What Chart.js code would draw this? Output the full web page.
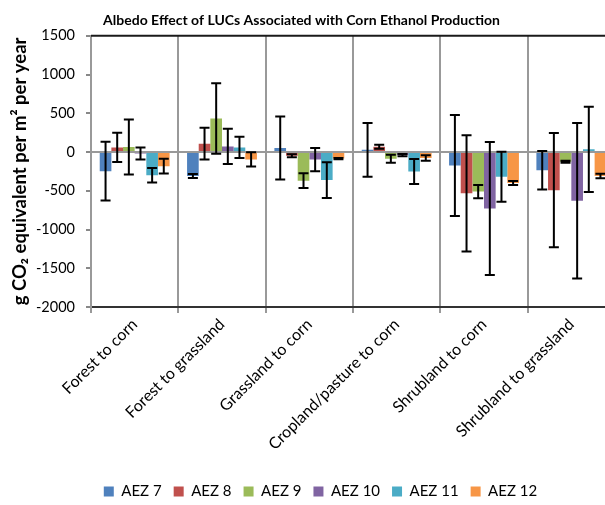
<!DOCTYPE html>
<html>
<head>
<meta charset="utf-8">
<script src="https://cdn.jsdelivr.net/npm/chart.js@4/dist/chart.umd.min.js"></script>
<style>
  html, body { margin: 0; padding: 0; background: #fff; overflow: hidden; }
  #wrap { width: 605px; height: 505px; overflow: hidden; position: relative; }
  canvas { display: block; }
</style>
</head>
<body>
<div id="wrap"><canvas id="c" width="615" height="505"></canvas></div>
<script>
// Land-use change categories
const categories = [
  'Forest to corn',
  'Forest to grassland',
  'Grassland to corn',
  'Cropland/pasture to corn',
  'Shrubland to corn',
  'Shrubland to grassland'
];

// Albedo effect (g CO2 eq per m2 per year) by agro-ecological zone
const aez7  = [-247, -310,   52,   28, -175, -235];
const aez8  = [  60,  108,  -48,   67, -533, -492];
const aez9  = [  65,  433, -370,  -87, -510, -125];
const aez10 = [ -20,   72,  -98,  -41, -730, -628];
const aez11 = [-300,   60, -362, -252, -320,   35];
const aez12 = [-182,  -95,  -85,  -77, -400, -310];

// Error bar half-widths for each zone
const err7  = [380,   25, 407, 347, 652,  247];
const err8  = [190,  204,  18,  26, 750,  737];
const err9  = [355,  455,  95,  52,  85,   12];
const err10 = [ 78,  228, 151,  15, 858, 1003];
const err11 = [ 93,  136, 230, 162, 322,  550];
const err12 = [ 95,   91,   8,  35,  27,   30];

const seriesNames = ['AEZ 7', 'AEZ 8', 'AEZ 9', 'AEZ 10', 'AEZ 11', 'AEZ 12'];
const seriesColors = ['#4F81BD', '#C0504D', '#9BBB59', '#8064A2', '#4BACC6', '#F79646'];
const seriesValues = [aez7, aez8, aez9, aez10, aez11, aez12];
const seriesErrors = [err7, err8, err9, err10, err11, err12];

const yTicks = { min: -2000, max: 1500, step: 500 };

const FONT = 'Lato, "Open Sans", sans-serif';

// Symmetric error bars drawn through the value scale
const errorBars = {
  id: 'errorBars',
  afterDatasetsDraw(chart) {
    const ctx = chart.ctx;
    const y = chart.scales.y;
    ctx.save();
    ctx.strokeStyle = '#000';
    ctx.lineWidth = 2;
    chart.data.datasets.forEach((ds, i) => {
      const meta = chart.getDatasetMeta(i);
      meta.data.forEach((bar, j) => {
        const v = ds.data[j], e = ds.errors[j];
        const top = y.getPixelForValue(v + e);
        const bot = y.getPixelForValue(v - e);
        const x = bar.x, cap = 5;
        ctx.beginPath();
        ctx.moveTo(x, top); ctx.lineTo(x, bot);
        ctx.moveTo(x - cap, top); ctx.lineTo(x + cap, top);
        ctx.moveTo(x - cap, bot); ctx.lineTo(x + cap, bot);
        ctx.stroke();
      });
    });
    ctx.restore();
  }
};

// Dark frame line along the top of the plot area
const topFrame = {
  id: 'topFrame',
  afterDraw(chart) {
    const { ctx, chartArea } = chart;
    ctx.save();
    ctx.strokeStyle = '#1a1a1a';
    ctx.lineWidth = 2;
    ctx.beginPath();
    ctx.moveTo(chartArea.left, chartArea.top);
    ctx.lineTo(chartArea.right, chartArea.top);
    ctx.stroke();
    ctx.restore();
  }
};

// Nudge title and legend blocks horizontally / vertically
const blockOffsets = {
  id: 'blockOffsets',
  afterLayout(chart) {
    const t = chart.titleBlock;
    if (t) { t.left -= 6; t.right -= 6; t.top += 2; t.bottom += 2; }
    const l = chart.legend;
    if (l) { l.left += 13; l.right += 13; l.top += 4; l.bottom += 4; }
  }
};

new Chart(document.getElementById('c'), {
  type: 'bar',
  data: {
    labels: categories,
    datasets: seriesNames.map((name, i) => ({
      label: name,
      data: seriesValues[i],
      errors: seriesErrors[i],
      backgroundColor: seriesColors[i],
      borderWidth: 0,
      categoryPercentage: 0.8,
      barPercentage: 1.0
    }))
  },
  options: {
    responsive: false,
    animation: false,
    devicePixelRatio: 1,
    layout: { padding: { left: 0, right: 0, top: 0, bottom: 0 } },
    plugins: {
      title: {
        display: true,
        text: 'Albedo Effect of LUCs Associated with Corn Ethanol Production',
        color: '#000',
        font: { family: FONT, size: 14, weight: 'bold' },
        padding: { top: 10, bottom: 9 }
      },
      legend: {
        position: 'bottom',
        labels: {
          color: '#000',
          font: { family: FONT, size: 15 },
          boxWidth: 10,
          boxHeight: 10,
          padding: 12
        }
      },
      tooltip: { enabled: false }
    },
    scales: {
      x: {
        grid: {
          offset: true,
          color: '#999',
          lineWidth: 2,
          tickLength: 6,
          tickColor: '#999'
        },
        border: { color: '#333', width: 2 },
        ticks: {
          color: '#000',
          font: { family: FONT, size: 16 },
          minRotation: 45,
          maxRotation: 45,
          padding: 2
        },
        afterFit(s) {
          s.height = s.chart.height - 307 - s.chart.legend.height;
        }
      },
      y: {
        min: yTicks.min,
        max: yTicks.max,
        ticks: {
          stepSize: yTicks.step,
          color: '#000',
          font: { family: FONT, size: 14.5 },
          padding: 11,
          callback: (v) => String(v)
        },
        grid: {
          color: (c) => (c.tick && c.tick.value === 0) ? '#999' : 'rgba(0,0,0,0)',
          lineWidth: 2,
          tickLength: 5,
          tickColor: '#888'
        },
        border: { color: '#999', width: 2 },
        title: {
          display: true,
          text: 'g CO\u2082 equivalent per m\u00B2 per year',
          color: '#000',
          font: { family: FONT, size: 18.5, weight: 'bold' },
          padding: { top: 9, bottom: 0 }
        },
        afterFit(s) { s.width = 91; }
      }
    }
  },
  plugins: [errorBars, topFrame, blockOffsets]
});
</script>
</body>
</html>
